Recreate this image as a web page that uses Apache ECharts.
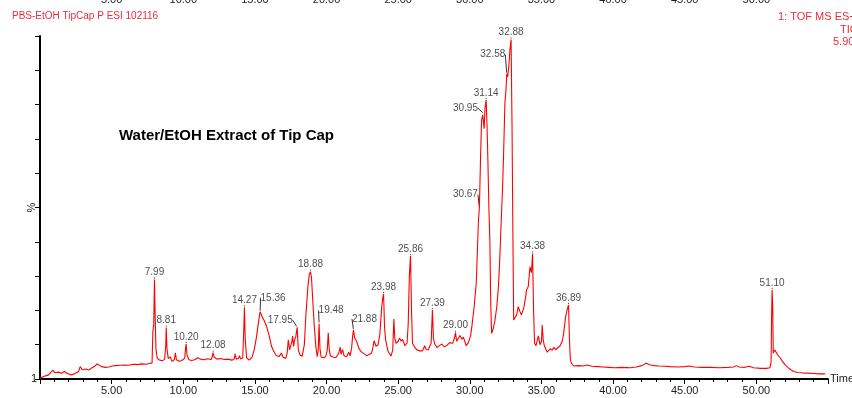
<!DOCTYPE html>
<html>
<head>
<meta charset="utf-8">
<script src="https://cdn.jsdelivr.net/npm/echarts@6/dist/echarts.min.js"></script>
<style>
  html, body { margin: 0; padding: 0; background: #fff; }
  #chart { width: 852px; height: 398px; }
</style>
</head>
<body>
<div id="chart"></div>
<script>
// retention time (min) and relative intensity (%)
const times = [
  0.00, 0.30, 0.60, 0.90, 1.05, 1.30, 1.50, 1.70, 1.90, 2.20, 2.45, 2.70, 2.80, 2.95, 3.20, 3.40, 3.60, 3.85, 3.98, 4.10,
  4.30, 4.55, 4.80, 5.05, 5.30, 5.60, 5.90, 6.20, 6.50, 6.80, 7.10, 7.40, 7.65, 7.82, 7.88, 7.94, 7.99, 8.04, 8.09, 8.18,
  8.35, 8.55, 8.70, 8.78, 8.81, 8.86, 8.95, 9.10, 9.20, 9.38, 9.45, 9.52, 9.70, 9.90, 10.10, 10.16, 10.20, 10.26, 10.40, 10.60,
  10.85, 11.00, 11.20, 11.45, 11.70, 11.95, 12.03, 12.08, 12.15, 12.35, 12.60, 12.85, 13.10, 13.40, 13.55, 13.62, 13.70, 13.85, 13.92, 14.00,
  14.15, 14.22, 14.27, 14.32, 14.42, 14.60, 14.80, 14.95, 15.10, 15.25, 15.36, 15.50, 15.65, 15.82, 16.00, 16.17, 16.35, 16.50, 16.70, 16.85,
  16.95, 17.15, 17.25, 17.33, 17.42, 17.52, 17.58, 17.63, 17.70, 17.77, 17.85, 17.95, 18.03, 18.15, 18.30, 18.45, 18.55, 18.70, 18.80, 18.88,
  18.95, 19.05, 19.15, 19.25, 19.35, 19.42, 19.48, 19.54, 19.62, 19.80, 19.95, 20.05, 20.12, 20.18, 20.26, 20.45, 20.65, 20.85, 20.95, 21.02,
  21.12, 21.22, 21.40, 21.55, 21.65, 21.75, 21.82, 21.88, 21.96, 22.10, 22.25, 22.40, 22.60, 22.80, 23.00, 23.15, 23.25, 23.32, 23.45, 23.60,
  23.72, 23.85, 23.92, 23.98, 24.05, 24.12, 24.30, 24.50, 24.62, 24.70, 24.76, 24.85, 25.00, 25.10, 25.20, 25.30, 25.47, 25.62, 25.70, 25.78,
  25.86, 25.93, 26.00, 26.15, 26.30, 26.50, 26.70, 26.85, 26.95, 27.10, 27.30, 27.39, 27.46, 27.55, 27.70, 27.90, 28.05, 28.20, 28.40, 28.60,
  28.80, 28.92, 29.00, 29.08, 29.20, 29.32, 29.45, 29.55, 29.75, 29.90, 30.05, 30.15, 30.30, 30.45, 30.55, 30.60, 30.67, 30.75, 30.82, 30.90,
  30.95, 31.00, 31.06, 31.14, 31.20, 31.26, 31.33, 31.40, 31.46, 31.52, 31.62, 31.75, 31.88, 32.00, 32.08, 32.15, 32.20, 32.28, 32.36, 32.45,
  32.52, 32.58, 32.64, 32.72, 32.80, 32.88, 32.95, 33.00, 33.06, 33.13, 33.27, 33.38, 33.50, 33.60, 33.77, 33.90, 33.96, 34.08, 34.20, 34.30,
  34.38, 34.45, 34.52, 34.62, 34.70, 34.78, 34.90, 35.00, 35.05, 35.12, 35.20, 35.40, 35.60, 35.75, 35.85, 36.00, 36.10, 36.30, 36.45, 36.55,
  36.68, 36.78, 36.89, 36.95, 37.02, 37.10, 37.25, 37.60, 37.90, 38.20, 38.50, 38.90, 39.30, 39.70, 40.10, 40.60, 41.20, 41.60, 42.00, 42.30,
  42.60, 42.90, 43.20, 43.60, 44.00, 44.50, 45.00, 45.30, 45.70, 46.20, 46.80, 47.40, 48.00, 48.40, 48.60, 48.80, 49.20, 49.50, 49.80, 50.30,
  50.70, 50.95, 51.03, 51.07, 51.10, 51.14, 51.18, 51.28, 51.38, 51.50, 51.65, 51.80, 52.00, 52.20, 52.40, 52.60, 52.90, 53.20, 53.60, 54.00,
  54.40, 54.80
];
const intensity = [
  0.2, 0.8, 1.2, 2.6, 1.8, 2.0, 1.7, 2.2, 1.6, 1.2, 1.6, 2.2, 3.6, 2.7, 2.9, 2.6, 3.2, 3.8, 4.4, 3.9,
  3.6, 3.4, 3.5, 3.8, 3.9, 4.0, 4.1, 4.0, 4.3, 4.2, 4.4, 4.3, 4.5, 4.7, 14.0, 16.0, 29.0, 18.0, 9.0, 6.0,
  5.5, 5.3, 5.8, 10.0, 15.0, 9.0, 6.0, 6.4, 5.2, 5.6, 7.6, 5.6, 5.2, 5.4, 6.0, 9.0, 10.2, 7.0, 5.6, 5.4,
  5.7, 6.2, 5.8, 5.6, 5.9, 5.7, 6.6, 7.7, 6.4, 5.8, 6.0, 5.7, 5.8, 5.5, 5.8, 7.3, 5.8, 6.0, 6.8, 5.8,
  6.2, 14.0, 20.9, 12.0, 6.2, 5.5, 6.4, 8.5, 12.0, 16.5, 19.6, 18.2, 17.0, 15.3, 12.5, 9.4, 7.8, 6.8, 6.6, 7.6,
  6.4, 6.0, 7.5, 11.4, 8.5, 8.0, 11.0, 12.5, 9.5, 11.5, 12.2, 15.1, 8.5, 7.0, 6.6, 10.0, 18.0, 27.0, 30.5, 31.3,
  29.5, 22.0, 15.0, 9.6, 6.5, 8.5, 16.2, 9.0, 6.4, 6.2, 6.6, 8.5, 13.5, 9.0, 6.8, 6.4, 6.2, 7.5, 9.3, 7.2,
  8.6, 6.8, 6.5, 7.8, 6.8, 9.0, 12.5, 14.3, 12.0, 11.0, 9.0, 8.0, 7.4, 6.8, 7.2, 7.6, 9.5, 11.2, 9.5, 10.0,
  13.0, 21.0, 23.5, 24.8, 15.0, 11.5, 8.0, 6.7, 8.5, 17.5, 12.0, 10.4, 11.0, 12.0, 11.0, 11.6, 9.7, 10.5, 16.0, 30.0,
  35.9, 20.0, 10.4, 9.3, 8.5, 8.2, 8.2, 9.7, 8.6, 8.5, 10.5, 20.1, 12.0, 10.2, 9.2, 9.8, 10.2, 9.4, 9.8, 10.6,
  10.4, 11.8, 13.5, 11.0, 11.2, 12.7, 11.6, 12.2, 9.7, 10.6, 12.5, 15.5, 21.0, 28.0, 40.0, 46.0, 50.0, 64.8, 75.5, 77.0,
  77.5, 73.0, 79.0, 81.3, 74.0, 64.0, 50.0, 40.0, 22.0, 13.3, 14.5, 17.0, 21.0, 27.0, 34.0, 41.5, 47.0, 55.0, 66.0, 80.5,
  84.0, 89.0, 88.0, 91.0, 96.0, 99.0, 72.0, 45.0, 17.2, 17.0, 18.7, 21.1, 19.6, 18.7, 20.8, 24.0, 26.0, 27.0, 32.7, 31.0,
  36.6, 20.0, 10.4, 9.7, 10.2, 12.6, 10.0, 11.0, 15.7, 11.5, 9.7, 7.8, 8.8, 8.4, 9.2, 8.6, 8.3, 9.7, 11.0, 13.3,
  18.0, 20.0, 21.6, 12.0, 5.5, 4.6, 3.8, 3.9, 3.8, 4.1, 3.7, 3.6, 3.5, 3.4, 3.3, 3.4, 3.3, 3.5, 3.9, 4.6,
  4.1, 3.9, 3.8, 3.7, 3.6, 3.5, 3.6, 3.8, 3.5, 3.4, 3.4, 3.3, 3.4, 3.5, 3.9, 3.5, 3.4, 3.7, 3.3, 3.1,
  3.1, 3.3, 5.0, 20.0, 26.0, 21.0, 7.5, 8.5, 8.6, 7.0, 6.2, 5.3, 4.2, 3.4, 2.7, 2.2, 1.9, 1.8, 1.7, 1.6,
  1.5, 1.5
];

// labelled peaks (retention times printed on the chromatogram)
const peakTimes = [7.99, 8.81, 10.20, 12.08, 14.27, 15.36, 17.95, 18.88, 19.48, 21.88, 23.98, 25.86,
  27.39, 29.00, 30.67, 30.95, 31.14, 32.58, 32.88, 34.38, 36.89, 51.10];

const xTicks = [0, 5, 10, 15, 20, 25, 30, 35, 40, 45, 50, 55];

const headerLeft = 'PBS-EtOH TipCap P ESI 102116';
const headerRight = ['1: TOF MS ES+', 'TIC', '5.90e7'];
const chartTitle = 'Water/EtOH Extract of Tip Cap';

// labels that sit off to the side with a leader line
const labelShift = {
  '15.36': { dx: 13, dy: -7 },
  '17.95': { dx: -17, dy: 0 },
  '19.48': { dx: 12, dy: -6 },
  '21.88': { dx: 11, dy: -4 },
  '30.67': { dx: -14, dy: -6 },
  '30.95': { dx: -18, dy: 2 },
  '32.58': { dx: -14, dy: -12 }
};

const trace = times.map((t, i) => [t, intensity[i]]);
const peaks = peakTimes.map((t) => {
  const i = times.indexOf(t);
  return [t, intensity[i]];
});

const FONT = 'Liberation Sans, Arial, sans-serif';
const chart = echarts.init(document.getElementById('chart'));

chart.setOption({
  animation: false,
  backgroundColor: '#fff',
  title: [
    { text: headerLeft, left: 12, top: 11, padding: 0,
      textStyle: { color: '#ee2b3b', fontSize: 10, fontWeight: 'normal', fontFamily: FONT } },
    { text: headerRight[0], left: 778, top: 11, padding: 0,
      textStyle: { color: '#ee2b3b', fontSize: 11, fontWeight: 'normal', fontFamily: FONT } },
    { text: headerRight[1], left: 840, top: 24, padding: 0,
      textStyle: { color: '#ee2b3b', fontSize: 11, fontWeight: 'normal', fontFamily: FONT } },
    { text: headerRight[2], left: 833, top: 36, padding: 0,
      textStyle: { color: '#ee2b3b', fontSize: 11, fontWeight: 'normal', fontFamily: FONT } },
    { text: chartTitle, left: 119, top: 128, padding: 0,
      textStyle: { color: '#000', fontSize: 15, fontWeight: 'bold', fontFamily: FONT } }
  ],
  grid: { left: 40, right: 24, top: 36, bottom: 19, outerBoundsMode: 'none' },
  xAxis: [
    {
      type: 'value', min: xTicks[0], max: xTicks[xTicks.length - 1], interval: 5,
      name: 'Time', nameLocation: 'end', nameGap: 2,
      nameTextStyle: { color: '#222', fontSize: 11, fontFamily: FONT },
      axisLine: { lineStyle: { color: '#000', width: 2 } },
      axisTick: { show: true, length: 5, lineStyle: { color: '#000' } },
      minorTick: { show: true, splitNumber: 5, length: 3, lineStyle: { color: '#000' } },
      splitLine: { show: false },
      axisLabel: {
        color: '#222', fontSize: 11, fontFamily: FONT, margin: 6,
        formatter: (v) => (v === 0 || v === 55 ? '' : v.toFixed(2))
      }
    },
    {
      // tick labels of the panel above, cut off by the top edge
      type: 'value', position: 'top', min: xTicks[0], max: xTicks[xTicks.length - 1], interval: 5,
      axisLine: { show: false }, axisTick: { show: false }, splitLine: { show: false },
      axisLabel: {
        color: '#222', fontSize: 11, fontFamily: FONT, margin: 31,
        formatter: (v) => (v === 0 || v === 55 ? '' : v.toFixed(2))
      }
    }
  ],
  yAxis: {
    type: 'value', min: 0, max: 100, interval: 10,
    name: '%', nameLocation: 'middle', nameGap: 3, nameRotate: 90, nameMoveOverlap: false,
    nameTextStyle: { color: '#222', fontSize: 11, fontFamily: FONT },
    axisLine: { show: true, lineStyle: { color: '#000', width: 2 } },
    axisTick: { show: true, length: 5, lineStyle: { color: '#000' } },
    splitLine: { show: false },
    axisLabel: {
      color: '#222', fontSize: 11, fontFamily: FONT, margin: 3,
      formatter: (v) => (v === 0 ? '1' : '')
    }
  },
  series: [
    {
      name: 'TIC', type: 'line', data: trace, xAxisIndex: 0,
      symbol: 'none', silent: true,
      lineStyle: { color: '#ff0000', width: 1.1 }
    },
    {
      name: 'peaks', type: 'scatter', data: peaks, xAxisIndex: 0,
      symbolSize: 2, silent: true,
      itemStyle: { color: 'rgba(0,0,0,0)' },
      label: {
        show: true, position: 'top', distance: 1,
        color: '#222', fontSize: 10, fontFamily: FONT,
        formatter: (p) => p.value[0].toFixed(2)
      },
      labelLine: { show: true, lineStyle: { color: '#333', width: 1 } },
      labelLayout: (params) => {
        const key = peaks[params.dataIndex][0].toFixed(2);
        return labelShift[key] || {};
      }
    }
  ]
});
</script>
</body>
</html>
